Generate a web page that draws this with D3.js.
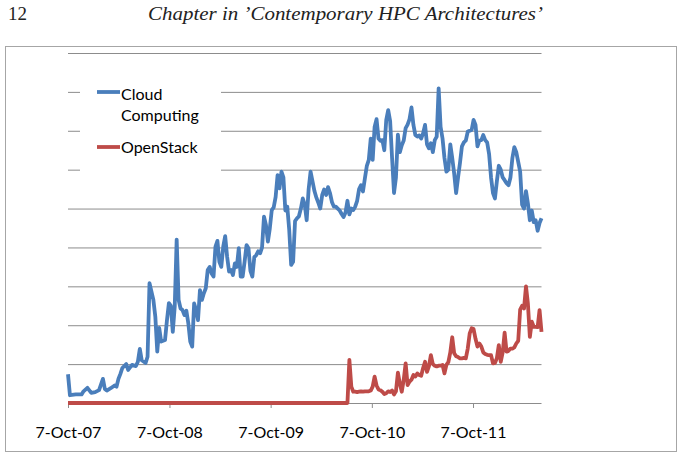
<!DOCTYPE html>
<html>
<head>
<meta charset="utf-8">
<script src="https://cdn.jsdelivr.net/npm/d3@7"></script>
<style>
  html, body { margin: 0; padding: 0; background: #fff; }
  svg { display: block; }
</style>
</head>
<body>
<svg id="chart" width="680" height="460"></svg>
<script>
// ---- Data (weekly Google-Trends-style interest, week offsets from 7 Oct 2007) ----
const startDate = "2007-10-07";
const tickDates = ["2007-10-07", "2008-10-07", "2009-10-07", "2010-10-07", "2011-10-07"];
const seriesNames = ["Cloud Computing", "OpenStack"];
const yTicks = [0, 10, 20, 30, 40, 50, 60, 70, 80, 90];

const cloudWeeks = [0,1,4,7,8,10,12,14,16,18,19,20,22,24,25,26,27,28,30,31,33,35,36,37,38,40,41,42,44,45,46,47,48,50,51,52,53,54,55,56,57,58,59,60,61,62,63,64,65,66,67,68,69,70,71,72,73,74,75,76,77,78,79,80,81,82,83,84,85,86,87,88,89,90,91,92,93,94,95,96,97,98,99,100,
101,102,103,104,105,106,107,108,109,110,111,112,113,114,115,116,117,118,119,120,121,122,123,124,125,126,127,128,129,130,131,132,133,134,135,136,137,138,139,140,141,142,143,144,145,146,147,148,149,150,151,152,153,154,155,156,157,158,159,160,161,162,163,164,165,166,167,168,169,170,171,172,173,174,175,176,177,178,179,180,181,182,183,184,185,186,187,188,189,190,191,192,193,194,195,196,197,198,199,200,201,202,203,204,205,206,207,208,209,210,211,212,213,214,215,216,217,218,219,220,221,222,223,224,225,226,227,228,229,230,231,232,233,234,235,236,237,238,239,240,241,242,243,244];
const cloudValues = [7.4,2,2.2,2.2,3,3.9,2.6,2.8,3.3,6.2,3.6,3.2,3.8,4.5,4.2,6.2,7.5,9,10,8.5,9.8,9.5,10.6,13.9,11,10.3,11.9,30.8,26.5,22.2,13.2,19.3,15.8,16.2,21.3,25.7,25,18.3,24.8,42,26.5,24.3,23.9,22.6,23.7,20.5,15.8,14.5,25.6,23.9,21.3,29,26.5,28.2,29.5,34.2,35,33.3,32.5,40.2,41.7,36.3,35,40.2,42.9,37.6,33.8,34.2,32.9,35.9,35,39.8,32.5,32.5,36.3,40.6,39.8,34,32.5,37.5,38,39,38.5,40,
47.9,45.8,41.5,44.9,49.6,50.3,53,58.6,55.2,59.5,58,49.5,50.5,44.5,35.5,36.3,46.8,47.5,48,50,52.6,51,47,55,59.5,57,54.5,52.8,51.5,50,53.5,54.9,53.5,55.5,54,51.7,50.5,50.5,50,49.5,48.6,47.8,49,52,48.5,50,49.6,50.5,52,55,56,54.4,57.8,61,62.5,68,62.5,71,73,68,67.4,67.6,65,72.8,75.3,72.5,63,54,58,69,64.5,66.3,67.5,70.7,71.6,73,76,71.5,68.9,68.5,68.8,68,69.4,71.5,66.5,65.5,66.8,64.5,67.6,68.5,80.9,71,68,63,59.5,60,66.5,63,59,54,58,61.8,66,67,67.5,69.8,70,70.2,72.8,71.5,66,67.5,67.6,68.9,67.6,67,64,58,54,52.6,57,61,60,58,57.3,56.5,56,58,63,65.8,64.5,62,59.5,51,50,54.5,51.3,47,49.5,46.5,47,44.3,46.3,47.5];

const openstackWeeks = [0,144,145,146,147,148,149,150,151,152,153,154,155,156,157,158,159,160,161,162,163,164,165,166,167,168,169,170,171,172,173,174,175,176,177,178,179,180,181,182,183,184,185,186,187,188,189,190,191,192,193,194,195,196,197,198,199,200,201,202,203,204,205,206,207,208,209,210,211,212,213,214,215,216,217,218,219,220,221,222,223,224,225,226,227,228,229,230,231,232,233,234,235,236,237,238,239,240,241,242,243,244];
const openstackValues = [0,0,11.1,4.2,2.9,2.9,2.8,2.9,3,2.9,3,3,3,3.2,4.2,6.8,4.5,3.5,3.3,2.9,2.3,2.5,3,2.8,3.2,2.2,3,7.8,5,2.9,6,10.2,4.6,5.5,6,7.2,6.8,7.6,7.2,7,9,10.6,8,9.5,12.3,10,9.6,9.4,9.6,9.6,9.8,7.6,9.8,10.5,13,16.9,12.8,12,11.8,11.5,11.5,11.6,11.5,14,17.9,19.2,19,16.5,14.5,15.3,14.5,13,12.6,12.4,12.3,12.3,10.2,10.3,11.5,14.9,10.6,13,18.1,13.2,13.4,14,14,14.3,15.3,16,24,25,24.3,30,25.5,17,20.9,19.6,19.6,19.5,23.9,18.3];

const colors = ["#4a7ebb", "#be4b48"];

// ---- Build ----
const parse = d3.timeParse("%Y-%m-%d");
const t0 = parse(startDate);
const toDate = w => d3.timeDay.offset(t0, w * 7);

const series = [
  cloudWeeks.map((w, i) => ({ date: toDate(w), value: cloudValues[i] })),
  openstackWeeks.map((w, i) => ({ date: toDate(w), value: openstackValues[i] }))
];

const svg = d3.select("#chart");
const plot = { left: 68, right: 541.5, top: 53, bottom: 403 };

const x = d3.scaleTime()
  .domain([t0, toDate(244)])
  .range([plot.left, plot.right]);
const y = d3.scaleLinear()
  .domain([0, 90])
  .range([plot.bottom, plot.top]);

// Header
svg.append("text")
  .attr("x", 8).attr("y", 20)
  .attr("font-family", "'Liberation Serif', 'DejaVu Serif', serif")
  .attr("font-size", 19).attr("fill", "#222")
  .text("12");
svg.append("text")
  .attr("x", 148).attr("y", 20)
  .attr("font-family", "'Liberation Serif', 'DejaVu Serif', serif")
  .attr("font-style", "italic")
  .attr("font-size", 19).attr("fill", "#222")
  .attr("textLength", 395).attr("lengthAdjust", "spacingAndGlyphs")
  .text("Chapter in \u2019Contemporary HPC Architectures\u2019");

// Chart frame
svg.append("rect")
  .attr("x", 5.5).attr("y", 46.5)
  .attr("width", 671).attr("height", 405)
  .attr("fill", "#fff").attr("stroke", "#a6a6a6").attr("stroke-width", 1);

// Gridlines
const grid = svg.append("g")
  .attr("transform", `translate(${plot.left},0)`)
  .call(d3.axisLeft(y).tickValues(yTicks.filter(v => v > 0))
    .tickSize(-(plot.right - plot.left)).tickFormat(""));
grid.select(".domain").remove();
grid.selectAll(".tick line").attr("stroke", "#8c8c8c").attr("stroke-width", 1);

// X axis
const xAxis = svg.append("g")
  .attr("transform", `translate(0,${plot.bottom})`)
  .call(d3.axisBottom(x)
    .tickValues(tickDates.map(parse))
    .tickSize(5)
    .tickPadding(19)
    .tickFormat(d3.timeFormat("%-d-%b-%y")));
xAxis.select(".domain").attr("stroke", "#8c8c8c").attr("d", `M${plot.left},0.5H${plot.right}`);
xAxis.selectAll(".tick line").attr("stroke", "#8c8c8c");
xAxis.selectAll(".tick text")
  .attr("font-family", "Lato, 'Open Sans', sans-serif")
  .attr("font-size", 16).attr("fill", "#000");

// Lines
const line = d3.line().x(d => x(d.date)).y(d => y(d.value));
svg.append("g").selectAll("path")
  .data(series)
  .join("path")
  .attr("d", line)
  .attr("fill", "none")
  .attr("stroke", (d, i) => colors[i])
  .attr("stroke-width", 3.8)
  .attr("stroke-linejoin", "round")
  .attr("stroke-linecap", "butt");

// Legend
const legend = svg.append("g");
legend.append("rect")
  .attr("x", 80).attr("y", 76).attr("width", 141).attr("height", 104)
  .attr("fill", "#fff");
const legendItems = [
  { name: seriesNames[0], lines: ["Cloud", "Computing"], ly: 92, ty: 100 },
  { name: seriesNames[1], lines: ["OpenStack"], ly: 147, ty: 153 }
];
legendItems.forEach((it, i) => {
  legend.append("line")
    .attr("x1", 97).attr("x2", 120)
    .attr("y1", it.ly).attr("y2", it.ly)
    .attr("stroke", colors[i]).attr("stroke-width", 3.8);
  const t = legend.append("text")
    .attr("x", 121).attr("y", it.ty)
    .attr("font-family", "Lato, 'Open Sans', sans-serif")
    .attr("font-size", 16).attr("fill", "#000");
  it.lines.forEach((s, j) => {
    t.append("tspan").attr("x", 121).attr("dy", j === 0 ? 0 : 21).text(s);
  });
});
</script>
</body>
</html>
